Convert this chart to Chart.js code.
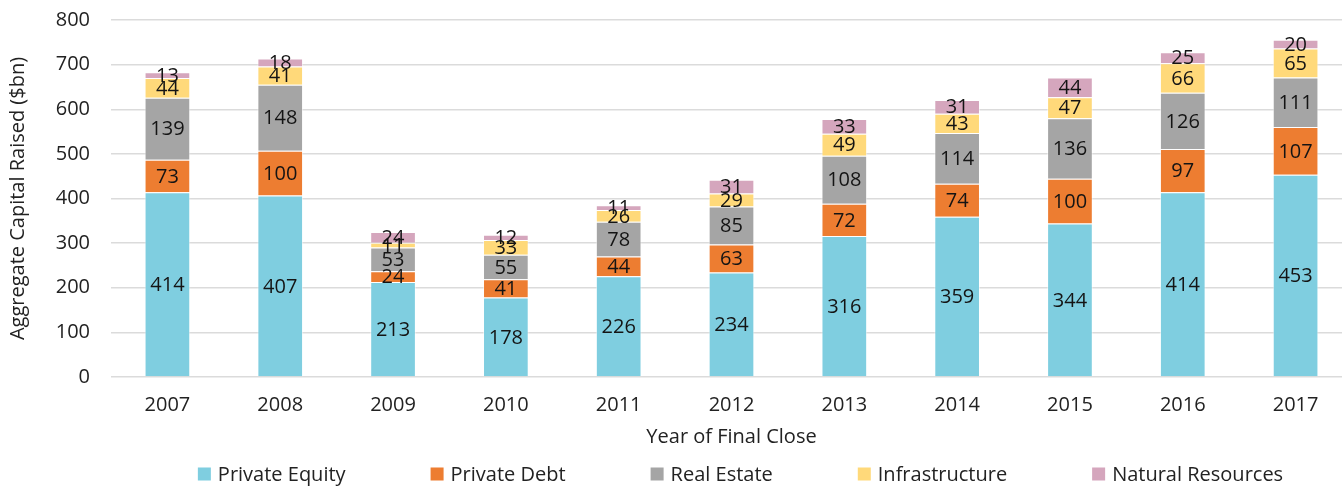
<!DOCTYPE html>
<html>
<head>
<meta charset="utf-8">
<script src="https://cdn.jsdelivr.net/npm/chart.js@4.4.0/dist/chart.umd.min.js"></script>
<style>
  body { margin: 0; background: #fff; }
  #wrap { width: 1342px; height: 488px; overflow: hidden; }
</style>
</head>
<body>
<div id="wrap"><canvas id="myChart" width="1352" height="488"></canvas></div>
<script>
const years = ['2007', '2008', '2009', '2010', '2011', '2012', '2013', '2014', '2015', '2016', '2017'];
const privateEquity = [414, 407, 213, 178, 226, 234, 316, 359, 344, 414, 453];
const privateDebt = [73, 100, 24, 41, 44, 63, 72, 74, 100, 97, 107];
const realEstate = [139, 148, 53, 55, 78, 85, 108, 114, 136, 126, 111];
const infrastructure = [44, 41, 11, 33, 26, 29, 49, 43, 47, 66, 65];
const naturalResources = [13, 18, 24, 12, 11, 31, 33, 31, 44, 25, 20];

const FONT = "'Open Sans', sans-serif";
const TEXT = '#222';

// value labels in the middle of each segment
const segmentLabels = {
  id: 'segmentLabels',
  afterDraw(chart) {
    const ctx = chart.ctx;
    ctx.save();
    ctx.font = '20px ' + FONT;
    ctx.fillStyle = '#141414';
    ctx.textAlign = 'center';
    ctx.textBaseline = 'middle';
    chart.data.datasets.forEach((ds, i) => {
      const meta = chart.getDatasetMeta(i);
      meta.data.forEach((bar, j) => {
        ctx.fillText(ds.data[j], bar.x, (bar.y + bar.base) / 2 + 1);
      });
    });
    ctx.restore();
  }
};

// legend spread out under the plot area
const wideLegend = {
  id: 'wideLegend',
  afterDraw(chart) {
    const ctx = chart.ctx;
    const area = chart.chartArea;
    const box = 13, gap = 7, spacing = 85;
    ctx.save();
    ctx.font = '20px ' + FONT;
    const items = chart.data.datasets.map(ds => ({
      text: ds.label, color: ds.backgroundColor, w: box + gap + ctx.measureText(ds.label).width
    }));
    const total = items.reduce((s, it) => s + it.w, 0) + spacing * (items.length - 1);
    let x = (area.left + area.right) / 2 + 9 - total / 2;
    const y = 474;
    ctx.textBaseline = 'middle';
    ctx.textAlign = 'left';
    items.forEach(it => {
      ctx.fillStyle = it.color;
      ctx.fillRect(x, y - box / 2, box, box);
      ctx.fillStyle = TEXT;
      ctx.fillText(it.text, x + box + gap, y + 1);
      x += it.w + spacing;
    });
    ctx.restore();
  }
};

const ctx = document.getElementById('myChart').getContext('2d');
new Chart(ctx, {
  type: 'bar',
  data: {
    labels: years,
    datasets: [
      { label: 'Private Equity', data: privateEquity, backgroundColor: '#7fcee0' },
      { label: 'Private Debt', data: privateDebt, backgroundColor: '#ed7d31' },
      { label: 'Real Estate', data: realEstate, backgroundColor: '#a5a5a5' },
      { label: 'Infrastructure', data: infrastructure, backgroundColor: '#ffd97a' },
      { label: 'Natural Resources', data: naturalResources, backgroundColor: '#d5a6bd' }
    ]
  },
  options: {
    responsive: false,
    animation: false,
    barPercentage: 0.405,
    categoryPercentage: 1,
    datasets: { bar: { borderColor: 'rgba(255,255,255,0.5)', borderWidth: 1 } },
    layout: { padding: { top: 20, bottom: 36, left: 0, right: 0 } },
    plugins: {
      legend: { display: false },
      tooltip: { enabled: false }
    },
    scales: {
      x: {
        stacked: true,
        grid: { display: false, drawTicks: false },
        border: { display: false },
        ticks: { color: TEXT, font: { family: FONT, size: 20 }, padding: 16 },
        title: {
          display: true, text: 'Year of Final Close', color: TEXT,
          font: { family: FONT, size: 20 }, padding: { top: 0, bottom: 3 }
        },
        afterFit(scale) { scale.height = 75; }
      },
      y: {
        stacked: true,
        min: 0,
        max: 800,
        z: 1,
        grid: { color: 'rgba(0,0,0,0.14)', lineWidth: 1.5, drawTicks: false },
        border: { display: false },
        ticks: { stepSize: 100, color: TEXT, font: { family: FONT, size: 20 }, padding: 21 },
        title: {
          display: true, text: 'Aggregate Capital Raised ($bn)', color: TEXT,
          font: { family: FONT, size: 20 }, padding: { top: 6, bottom: 0 }
        },
        afterFit(scale) {
          scale.width = 111;
          scale.paddingTop = 0;
          scale.paddingBottom = 0;
        }
      }
    }
  },
  plugins: [segmentLabels, wideLegend]
});
</script>
</body>
</html>
